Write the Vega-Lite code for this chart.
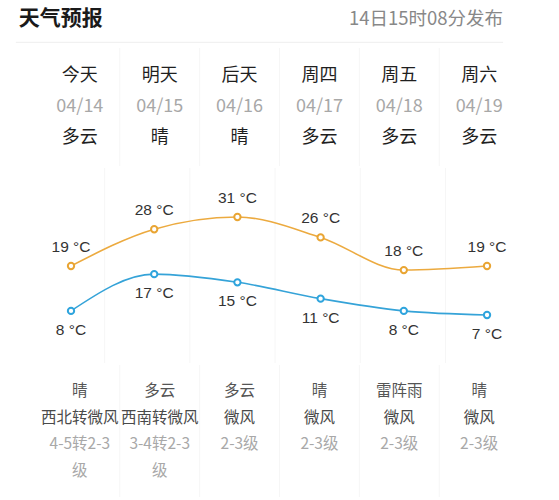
{
  "$schema": "https://vega.github.io/schema/vega-lite/v6.json",
  "padding": 0,
  "background": "white",
  "config": {
    "view": {"stroke": null},
    "concat": {"spacing": 0},
    "text": {"font": "Noto Sans CJK SC"}
  },
  "resolve": {"scale": {"color": "independent"}},
  "datasets": {
    "seps": [{"s": 0.5}, {"s": 1.5}, {"s": 2.5}, {"s": 3.5}, {"s": 4.5}],
    "days": [
      {"i": 0, "row": "day", "label": "今天"},
      {"i": 1, "row": "day", "label": "明天"},
      {"i": 2, "row": "day", "label": "后天"},
      {"i": 3, "row": "day", "label": "周四"},
      {"i": 4, "row": "day", "label": "周五"},
      {"i": 5, "row": "day", "label": "周六"},
      {"i": 0, "row": "date", "label": "04/14"},
      {"i": 1, "row": "date", "label": "04/15"},
      {"i": 2, "row": "date", "label": "04/16"},
      {"i": 3, "row": "date", "label": "04/17"},
      {"i": 4, "row": "date", "label": "04/18"},
      {"i": 5, "row": "date", "label": "04/19"},
      {"i": 0, "row": "weather", "label": "多云"},
      {"i": 1, "row": "weather", "label": "晴"},
      {"i": 2, "row": "weather", "label": "晴"},
      {"i": 3, "row": "weather", "label": "多云"},
      {"i": 4, "row": "weather", "label": "多云"},
      {"i": 5, "row": "weather", "label": "多云"}
    ],
    "temps": [
      {"i": 0, "high": 19, "low": 8},
      {"i": 1, "high": 28, "low": 17},
      {"i": 2, "high": 31, "low": 15},
      {"i": 3, "high": 26, "low": 11},
      {"i": 4, "high": 18, "low": 8},
      {"i": 5, "high": 19, "low": 7}
    ],
    "info": [
      {"i": 0, "row": "cond", "label": "晴"},
      {"i": 1, "row": "cond", "label": "多云"},
      {"i": 2, "row": "cond", "label": "多云"},
      {"i": 3, "row": "cond", "label": "晴"},
      {"i": 4, "row": "cond", "label": "雷阵雨"},
      {"i": 5, "row": "cond", "label": "晴"},
      {"i": 0, "row": "wind", "label": "西北转微风"},
      {"i": 1, "row": "wind", "label": "西南转微风"},
      {"i": 2, "row": "wind", "label": "微风"},
      {"i": 3, "row": "wind", "label": "微风"},
      {"i": 4, "row": "wind", "label": "微风"},
      {"i": 5, "row": "wind", "label": "微风"},
      {"i": 0, "row": "level", "label": "4-5转2-3"},
      {"i": 1, "row": "level", "label": "3-4转2-3"},
      {"i": 2, "row": "level", "label": "2-3级"},
      {"i": 3, "row": "level", "label": "2-3级"},
      {"i": 4, "row": "level", "label": "2-3级"},
      {"i": 5, "row": "level", "label": "2-3级"},
      {"i": 0, "row": "level2", "label": "级"},
      {"i": 1, "row": "level2", "label": "级"}
    ]
  },
  "vconcat": [
    {
      "width": 559,
      "height": 47,
      "data": {"values": [{}]},
      "layer": [
        {
          "mark": {"type": "text", "text": "天气预报", "align": "left", "baseline": "middle", "fontSize": 21, "fontWeight": "bold", "color": "#1a1a1a"},
          "encoding": {
            "x": {"datum": 20, "type": "quantitative", "scale": {"domain": [0, 559]}, "axis": null},
            "y": {"datum": 20, "type": "quantitative", "scale": {"domain": [0, 47], "reverse": true}, "axis": null}
          }
        },
        {
          "mark": {"type": "text", "text": "14日15时08分发布", "align": "right", "baseline": "middle", "fontSize": 18.5, "color": "#888888"},
          "encoding": {
            "x": {"datum": 540, "type": "quantitative"},
            "y": {"datum": 20, "type": "quantitative"}
          }
        },
        {
          "mark": {"type": "rule", "color": "#eeeeee", "strokeWidth": 1},
          "encoding": {
            "x": {"datum": 17, "type": "quantitative"},
            "x2": {"datum": 540},
            "y": {"datum": 45, "type": "quantitative"}
          }
        }
      ]
    },
    {
      "width": 559,
      "height": 118,
      "layer": [
        {
          "data": {"name": "seps"},
          "mark": {"type": "rule", "color": "#f6f6f6"},
          "encoding": {
            "x": {"field": "s", "type": "quantitative", "scale": {"domain": [-0.728, 5.833]}, "axis": null}
          }
        },
        {
          "data": {"name": "days"},
          "mark": {"type": "text", "fontSize": 18, "baseline": "middle"},
          "encoding": {
            "x": {"field": "i", "type": "quantitative"},
            "y": {"field": "row", "type": "ordinal", "sort": ["day", "date", "weather"], "scale": {"type": "point", "padding": 0.903}, "axis": null},
            "text": {"field": "label"},
            "color": {"field": "row", "type": "nominal", "scale": {"domain": ["day", "date", "weather"], "range": ["#1f1f1f", "#a8a8a8", "#1f1f1f"]}, "legend": null}
          }
        }
      ]
    },
    {
      "width": 559,
      "height": 195,
      "resolve": {"scale": {"x": "independent"}},
      "layer": [
        {
          "data": {"name": "seps"},
          "mark": {"type": "rule", "color": "#f6f6f6"},
          "encoding": {
            "x": {"field": "s", "type": "quantitative", "scale": {"domain": [-0.728, 5.833]}, "axis": null}
          }
        },
        {
          "data": {"name": "temps"},
          "transform": [
            {"calculate": "datum.high + ' °C'", "as": "highLabel"},
            {"calculate": "datum.low + ' °C'", "as": "lowLabel"}
          ],
          "encoding": {
            "x": {"field": "i", "type": "quantitative", "scale": {"domain": [-0.8534, 5.865]}, "axis": null}
          },
          "layer": [
            {
              "mark": {"type": "line", "interpolate": "monotone", "color": "#ecaa3f", "strokeWidth": 1.6},
              "encoding": {"y": {"field": "high", "type": "quantitative", "scale": {"domain": [-4.76, 43.0], "zero": false, "nice": false}, "axis": null}}
            },
            {
              "mark": {"type": "line", "interpolate": "monotone", "color": "#35a3d8", "strokeWidth": 1.6},
              "encoding": {"y": {"field": "low", "type": "quantitative"}}
            },
            {
              "mark": {"type": "point", "shape": "circle", "filled": true, "fill": "white", "stroke": "#e9a533", "strokeWidth": 2, "size": 40, "opacity": 1},
              "encoding": {"y": {"field": "high", "type": "quantitative"}}
            },
            {
              "mark": {"type": "point", "shape": "circle", "filled": true, "fill": "white", "stroke": "#2ea4dd", "strokeWidth": 2, "size": 40, "opacity": 1},
              "encoding": {"y": {"field": "low", "type": "quantitative"}}
            },
            {
              "mark": {"type": "text", "font": "Liberation Sans", "fontSize": 15.5, "color": "#333333", "baseline": "middle", "dy": -19},
              "encoding": {"y": {"field": "high", "type": "quantitative"}, "text": {"field": "highLabel"}}
            },
            {
              "mark": {"type": "text", "font": "Liberation Sans", "fontSize": 15.5, "color": "#333333", "baseline": "middle", "dy": 19},
              "encoding": {"y": {"field": "low", "type": "quantitative"}, "text": {"field": "lowLabel"}}
            }
          ]
        }
      ]
    },
    {
      "width": 559,
      "height": 132,
      "layer": [
        {
          "data": {"name": "seps"},
          "mark": {"type": "rule", "color": "#f6f6f6"},
          "encoding": {
            "x": {"field": "s", "type": "quantitative", "scale": {"domain": [-0.728, 5.833]}, "axis": null}
          }
        },
        {
          "data": {"name": "info"},
          "mark": {"type": "text", "fontSize": 15.5, "baseline": "middle"},
          "encoding": {
            "x": {"field": "i", "type": "quantitative"},
            "y": {"field": "row", "type": "ordinal", "sort": ["cond", "wind", "level", "level2"], "scale": {"type": "point", "padding": 1.04}, "axis": null},
            "text": {"field": "label"},
            "color": {"field": "row", "type": "nominal", "scale": {"domain": ["cond", "wind", "level", "level2"], "range": ["#555555", "#4a4a4a", "#a8a8a8", "#a8a8a8"]}, "legend": null}
          }
        }
      ]
    }
  ]
}
